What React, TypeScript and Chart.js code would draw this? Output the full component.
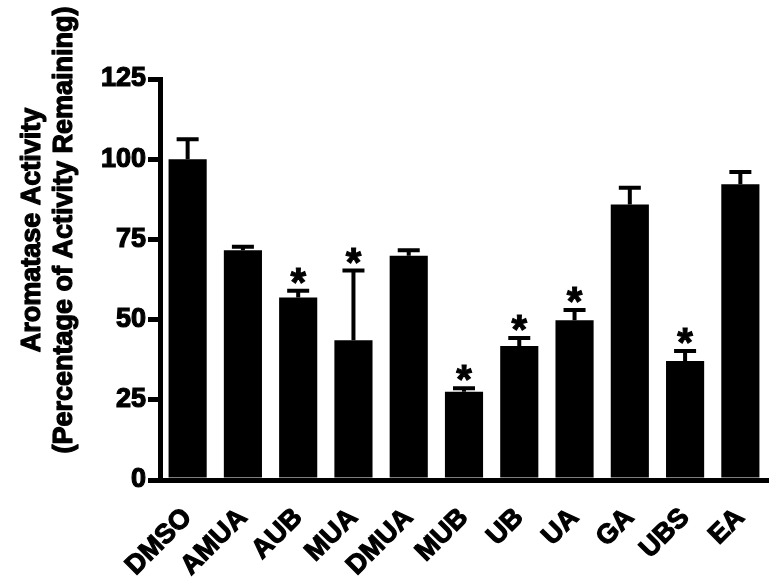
import React, { useEffect, useRef } from "react";
import { Chart, registerables } from "chart.js";

Chart.register(...registerables);

const categories = ["DMSO", "AMUA", "AUB", "MUA", "DMUA", "MUB", "UB", "UA", "GA", "UBS", "EA"];
const meanValues = [100, 71.6, 56.9, 43.6, 69.9, 27.5, 41.8, 49.8, 85.9, 37.1, 92.2];
const errorValues = [6.2, 1.1, 2.1, 21.7, 1.7, 1.1, 2.5, 3.2, 5.2, 3.1, 3.8];
const significant = [false, false, true, true, false, true, true, true, false, true, false];
const yTicks = [0, 25, 50, 75, 100, 125];
const yTitleLines = ["Aromatase Activity", "(Percentage of Activity Remaining)"];

const FONT = "'Liberation Sans', Arial, Helvetica, sans-serif";

const errorBarPlugin = {
  id: "errorBars",
  afterDatasetsDraw(chart: any) {
    const ctx = chart.ctx;
    const meta = chart.getDatasetMeta(0);
    const yScale = chart.scales.y;
    ctx.save();
    ctx.strokeStyle = "#000";
    ctx.fillStyle = "#000";
    ctx.lineWidth = 4;
    ctx.lineCap = "butt";
    meta.data.forEach((bar: any, i: number) => {
      const x = bar.x;
      const yTop = yScale.getPixelForValue(meanValues[i]);
      const yErr = yScale.getPixelForValue(meanValues[i] + errorValues[i]);
      ctx.lineWidth = 4;
      ctx.beginPath();
      ctx.moveTo(x, yTop);
      ctx.lineTo(x, yErr);
      ctx.moveTo(x - 11, yErr);
      ctx.lineTo(x + 11, yErr);
      ctx.stroke();
      if (significant[i]) {
        ctx.font = `bold 40px ${FONT}`;
        ctx.textAlign = "center";
        ctx.textBaseline = "alphabetic";
        const m = ctx.measureText("*");
        const asc = m.actualBoundingBoxAscent;
        const desc = m.actualBoundingBoxDescent;
        const cy = yErr - 15;
        const ty = cy + (asc - desc) / 2;
        ctx.lineWidth = 1;
        ctx.fillText("*", x, ty);
        ctx.strokeText("*", x, ty);
      }
    });
    ctx.restore();
  },
  afterDraw(chart: any) {
    const ctx = chart.ctx;
    ctx.save();
    ctx.fillStyle = "#000";
    ctx.strokeStyle = "#000";
    ctx.lineWidth = 1.2;
    ctx.lineJoin = "round";
    ctx.font = `bold 27px ${FONT}`;
    ctx.textAlign = "center";
    ctx.textBaseline = "middle";
    ctx.translate(33, 230);
    ctx.rotate(-Math.PI / 2);
    ctx.fillText(yTitleLines[0], 0, 0);
    ctx.strokeText(yTitleLines[0], 0, 0);
    ctx.fillText(yTitleLines[1], 0, 32);
    ctx.strokeText(yTitleLines[1], 0, 32);
    ctx.restore();
  },
};

export default function App() {
  const ref = useRef<HTMLCanvasElement | null>(null);
  useEffect(() => {
    if (!ref.current) return;
    const chart = new Chart(ref.current, {
      type: "bar",
      data: {
        labels: categories,
        datasets: [
          {
            data: meanValues,
            backgroundColor: "#000",
            borderWidth: 0,
            categoryPercentage: 1,
            barPercentage: 0.69,
          },
        ],
      },
      options: {
        responsive: false,
        animation: false,
        devicePixelRatio: 1,
        layout: { padding: { top: 79, right: 13, left: 0, bottom: 0 } },
        plugins: {
          legend: { display: false },
          tooltip: { enabled: false },
          title: { display: false },
        },
        scales: {
          x: {
            grid: { display: false },
            border: { display: true, width: 5, color: "#000" },
            ticks: {
              color: "#000",
              font: { family: FONT, size: 27, weight: "bold" },
              textStrokeColor: "#000",
              textStrokeWidth: 1.2,
              minRotation: 45,
              maxRotation: 45,
              autoSkip: false,
              padding: 14,
            },
            afterFit(scale: any) {
              scale.height = 103;
            },
          },
          y: {
            min: 0,
            max: 125,
            grid: {
              display: true,
              drawOnChartArea: false,
              drawTicks: true,
              tickLength: 12,
              lineWidth: 5,
              color: "#000",
            },
            border: { display: true, width: 5, color: "#000" },
            ticks: {
              color: "#000",
              font: { family: FONT, size: 27, weight: "bold" },
              textStrokeColor: "#000",
              textStrokeWidth: 1.2,
              padding: 2,
            },
            afterBuildTicks(scale: any) {
              scale.ticks = yTicks.map((v) => ({ value: v }));
            },
            afterFit(scale: any) {
              scale.width = 160;
            },
          },
        },
      },
      plugins: [errorBarPlugin],
    });
    return () => chart.destroy();
  }, []);
  return (
    <div style={{ position: "fixed", left: 0, top: 0, width: 781, height: 583, background: "#fff" }}>
      <canvas ref={ref} width={781} height={583} />
    </div>
  );
}
